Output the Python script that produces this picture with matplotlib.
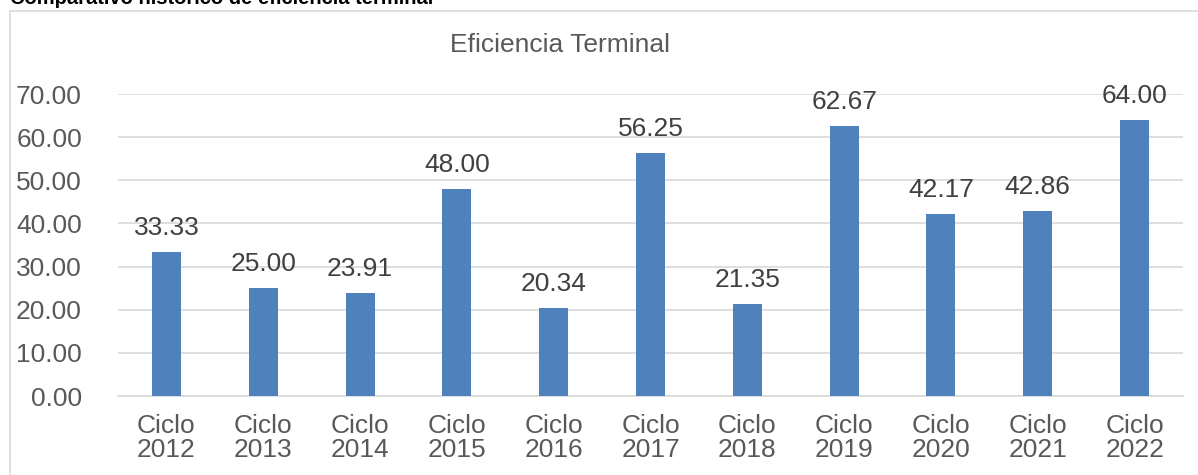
import matplotlib.pyplot as plt
from matplotlib.patches import Rectangle

# Datos
ciclos = ['Ciclo\n2012', 'Ciclo\n2013', 'Ciclo\n2014', 'Ciclo\n2015', 'Ciclo\n2016', 'Ciclo\n2017',
          'Ciclo\n2018', 'Ciclo\n2019', 'Ciclo\n2020', 'Ciclo\n2021', 'Ciclo\n2022']
eficiencia = [33.33, 25.00, 23.91, 48.00, 20.34, 56.25, 21.35, 62.67, 42.17, 42.86, 64.00]
yticks = [0, 10, 20, 30, 40, 50, 60, 70]

plt.rcParams['font.family'] = ['Liberation Sans', 'DejaVu Sans']

fig = plt.figure(figsize=(11.98, 4.75), dpi=100)
ax = fig.add_axes([0.0985, 0.1663, 0.889, 0.6358])

x = range(len(ciclos))
bars = ax.bar(x, eficiencia, width=0.3, color='#4F81BD', zorder=3)

# etiquetas de datos
for xi, v in zip(x, eficiencia):
    ax.annotate(f'{v:.2f}', (xi, v), xytext=(0, 12), textcoords='offset pixels',
                ha='center', va='bottom', fontsize=19, color='#404040')

ax.set_xlim(-0.5, len(ciclos) - 0.5)
ax.set_ylim(0, 70)
ax.set_yticks(yticks)
ax.set_yticklabels([f'{t:.2f}' for t in yticks])
ax.set_xticks(list(x))
ax.set_xticklabels(ciclos, linespacing=1.0)
ax.tick_params(axis='y', length=0, pad=26, labelsize=19, labelcolor='#595959')
ax.tick_params(axis='x', length=0, pad=13, labelsize=19, labelcolor='#595959')
ax.grid(axis='y', color='#D9D9D9', linewidth=1.2, zorder=0)
for s in ['top', 'right', 'left']:
    ax.spines[s].set_visible(False)
ax.spines['bottom'].set_color('#D9D9D9')
ax.spines['bottom'].set_linewidth(1.2)

# titulo del grafico
fig.text(560 / 1198, 1 - 45 / 475, 'Eficiencia Terminal', fontsize=19, color='#595959',
         ha='center', va='center')

# marco del grafico
fig.patches.append(Rectangle((10 / 1198, -0.1), 1.2, 1 - 11 / 475 + 0.1, transform=fig.transFigure,
                             fill=False, edgecolor='#D9D9D9', linewidth=1.2))

# titulo del documento (cortado arriba, como en el original)
fig.text(10 / 1198, 1 - 4 / 475, 'Comparativo histórico de eficiencia terminal',
         fontsize=14.5, fontweight='bold', color='black', va='baseline', ha='left')

fig.savefig('out.png', dpi=100)
